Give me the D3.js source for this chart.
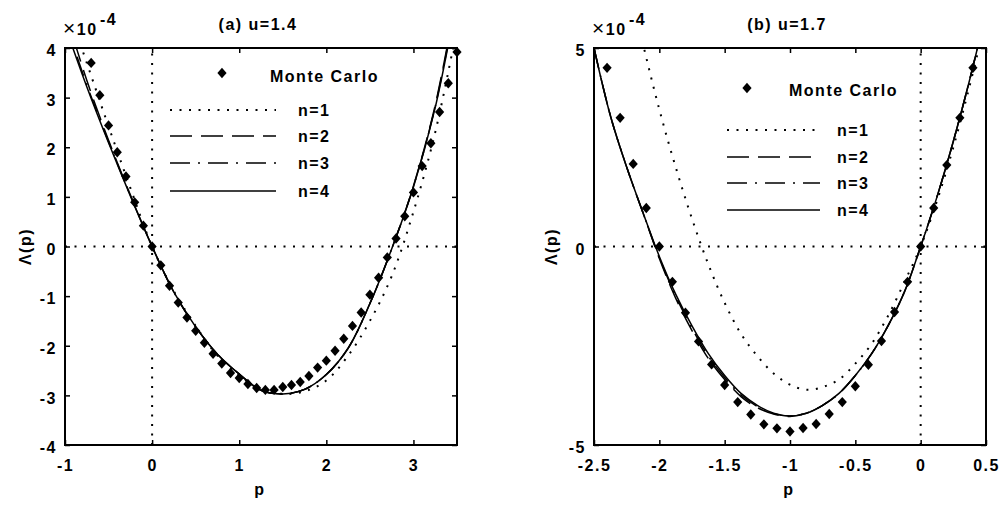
<!DOCTYPE html>
<html>
<head>
<meta charset="utf-8">
<script src="https://cdn.jsdelivr.net/npm/d3@7"></script>
<style>
    body { margin: 0; background: #fff; }
    text {
        font-family: "Liberation Sans", Arial, sans-serif;
        font-weight: bold;
        font-size: 16px;
        letter-spacing: 1.5px;
        fill: #000;
    }
</style>
</head>
<body>
<svg id="chart" width="1002" height="505"></svg>
<script>

//
// ******************************************************************
//                      DATA  (values in units of 1e-4)
// ******************************************************************
//

// Panel (a) u=1.4 : Monte Carlo points
const pMcA = [-0.7, -0.6, -0.5, -0.4, -0.3, -0.2, -0.1, 0, 0.1, 0.2, 0.3, 0.4, 0.5, 0.6, 0.7,
    0.8, 0.9, 1.0, 1.1, 1.2, 1.3, 1.4, 1.5, 1.6, 1.7, 1.8, 1.9, 2.0, 2.1, 2.2, 2.3, 2.4, 2.5,
    2.6, 2.7, 2.8, 2.9, 3.0, 3.1, 3.2, 3.3, 3.4, 3.5];
const lamMcA = [3.70, 3.05, 2.44, 1.90, 1.41, 0.89, 0.42, 0, -0.38, -0.79, -1.13, -1.43, -1.70, -1.94, -2.16,
    -2.36, -2.55, -2.65, -2.77, -2.85, -2.89, -2.89, -2.83, -2.79, -2.73, -2.61, -2.44, -2.30, -2.10, -1.86, -1.60, -1.33, -0.97,
    -0.63, -0.22, 0.16, 0.61, 1.09, 1.62, 2.08, 2.71, 3.29, 3.92];

// Panel (a) : approximations n=1..4
const pThA = [-1, -0.75, -0.5, -0.25, 0, 0.25, 0.5, 0.75, 1.0, 1.25, 1.5, 1.75, 2.0, 2.25, 2.5, 2.75, 3.0, 3.25, 3.5];
const lamA_n1 = [5.0, 3.7, 2.42, 1.18, 0, -0.9, -1.6, -2.2, -2.6, -2.88, -2.97, -2.92, -2.7, -2.2, -1.5, -0.6, 0.7, 2.3, 4.4];
const lamA_n2 = [4.75, 3.35, 2.14, 1.04, 0, -0.92, -1.62, -2.17, -2.57, -2.9, -2.97, -2.88, -2.58, -2.05, -1.15, -0.05, 1.22, 2.85, 5.1];
const lamA_n3 = [4.55, 3.26, 2.11, 1.03, 0, -0.92, -1.62, -2.17, -2.57, -2.9, -2.97, -2.88, -2.58, -2.05, -1.15, -0.05, 1.21, 2.82, 5.05];
const lamA_n4 = [4.45, 3.22, 2.09, 1.02, 0, -0.92, -1.62, -2.17, -2.57, -2.9, -2.97, -2.88, -2.58, -2.05, -1.15, -0.05, 1.2, 2.8, 5.0];

// Panel (b) u=1.7 : Monte Carlo points
const pMcB = [-2.4, -2.3, -2.2, -2.1, -2.0, -1.9, -1.8, -1.7, -1.6, -1.5, -1.4, -1.3, -1.2, -1.1, -1.0,
    -0.9, -0.8, -0.7, -0.6, -0.5, -0.4, -0.3, -0.2, -0.1, 0, 0.1, 0.2, 0.3, 0.4];
const lamMcB = [4.50, 3.24, 2.08, 0.97, 0, -0.89, -1.67, -2.39, -2.97, -3.49, -3.92, -4.23, -4.48, -4.58, -4.66,
    -4.57, -4.47, -4.22, -3.92, -3.52, -2.98, -2.38, -1.65, -0.89, 0, 0.97, 2.05, 3.24, 4.50];

// Panel (b) : approximations n=1..4
const pThB = [-2.5, -2.375, -2.25, -2.125, -2.0, -1.875, -1.75, -1.625, -1.5, -1.375, -1.25, -1.125, -1.0,
    -0.875, -0.75, -0.625, -0.5, -0.375, -0.25, -0.125, 0, 0.125, 0.25, 0.375, 0.5];
const lamB_n1 = [10.8, 8.8, 6.9, 5.1, 3.45, 2.0, 0.7, -0.45, -1.42, -2.2, -2.76, -3.2, -3.48,
    -3.61, -3.54, -3.35, -2.95, -2.45, -1.75, -0.9, 0, 1.15, 2.5, 4.05, 5.75];
const lamB_n2 = [5.0, 3.3, 2.0, 0.85, -0.3, -1.3, -2.12, -2.82, -3.35, -3.78, -4.06, -4.22, -4.28,
    -4.2, -4.0, -3.7, -3.25, -2.7, -2.0, -1.15, 0, 1.25, 2.65, 4.2, 5.9];
const lamB_n3 = [5.0, 3.3, 2.0, 0.85, -0.28, -1.25, -2.06, -2.76, -3.3, -3.74, -4.03, -4.21, -4.27,
    -4.2, -4.0, -3.7, -3.25, -2.7, -2.0, -1.15, 0, 1.25, 2.65, 4.2, 5.9];
const lamB_n4 = [5.0, 3.3, 2.0, 0.85, -0.25, -1.2, -2.0, -2.7, -3.25, -3.7, -4.0, -4.2, -4.27,
    -4.2, -4.0, -3.7, -3.25, -2.7, -2.0, -1.15, 0, 1.25, 2.65, 4.2, 5.9];

// Ticks
const xTicksA = [-1, 0, 1, 2, 3];
const yTicksA = [-4, -3, -2, -1, 0, 1, 2, 3, 4];
const xTicksB = [-2.5, -2, -1.5, -1, -0.5, 0, 0.5];
const yTicksB = [-5, 0, 5];

const seriesNames = ["n=1", "n=2", "n=3", "n=4"];
const mcName = "Monte Carlo";

//
// ******************************************************************
//                      STYLES
// ******************************************************************
//

const lineStyles = [
    { dash: "2,7.5", width: 2 },        // n=1 dotted
    { dash: "22,9", width: 1.5 },       // n=2 dashed
    { dash: "20,8,2,8", width: 1.5 },   // n=3 dash-dot
    { dash: null, width: 1.5 }          // n=4 solid
];

const diamond = {
    draw(ctx) {
        const w = 4.6, h = 5.2;
        ctx.moveTo(0, -h);
        ctx.lineTo(w, 0);
        ctx.lineTo(0, h);
        ctx.lineTo(-w, 0);
        ctx.closePath();
    }
};

const svg = d3.select("#chart");

const panels = [
    {
        id: "a", title: "(a) u=1.4",
        left: 65, right: 457, top: 48, bottom: 445,
        xDomain: [-1, 3.5], yDomain: [-4, 4],
        xTicks: xTicksA, yTicks: yTicksA,
        pMc: pMcA, lamMc: lamMcA,
        pTh: pThA, curves: [lamA_n1, lamA_n2, lamA_n3, lamA_n4],
        legend: { markerX: 222, markerY: 73, mcTextX: 270, mcY: 76,
                  lineX0: 170, lineX1: 276, textX: 298, rows: [110, 136, 163, 191] },
        ylabelX: 25
    },
    {
        id: "b", title: "(b) u=1.7",
        left: 594, right: 986, top: 48, bottom: 445,
        xDomain: [-2.5, 0.5], yDomain: [-5, 5],
        xTicks: xTicksB, yTicks: yTicksB,
        pMc: pMcB, lamMc: lamMcB,
        pTh: pThB, curves: [lamB_n1, lamB_n2, lamB_n3, lamB_n4],
        legend: { markerX: 747, markerY: 88, mcTextX: 789, mcY: 90,
                  lineX0: 727, lineX1: 820, textX: 837, rows: [130, 157, 183, 210] },
        ylabelX: 551
    }
];

panels.forEach(drawPanel);

function drawPanel(cfg) {

    const x = d3.scaleLinear().domain(cfg.xDomain).range([cfg.left, cfg.right]);
    const y = d3.scaleLinear().domain(cfg.yDomain).range([cfg.bottom, cfg.top]);
    const g = svg.append("g").attr("class", "panel-" + cfg.id);

    // Clip for the curves.
    svg.append("clipPath").attr("id", "clip-" + cfg.id)
        .append("rect")
        .attr("x", cfg.left).attr("y", cfg.top)
        .attr("width", cfg.right - cfg.left).attr("height", cfg.bottom - cfg.top);

    // Dotted zero lines.
    g.append("line")
        .attr("x1", cfg.left).attr("x2", cfg.right)
        .attr("y1", y(0)).attr("y2", y(0))
        .attr("stroke", "#000").attr("stroke-width", 2)
        .attr("stroke-dasharray", "2,7.5");
    g.append("line")
        .attr("x1", x(0)).attr("x2", x(0))
        .attr("y1", cfg.bottom).attr("y2", cfg.top)
        .attr("stroke", "#000").attr("stroke-width", 2)
        .attr("stroke-dasharray", "2,7.5");

    // Theory curves.
    const line = d3.line()
        .x(d => x(d[0]))
        .y(d => y(d[1]))
        .curve(d3.curveCatmullRom.alpha(0.5));

    const curves = g.append("g").attr("clip-path", `url(#clip-${cfg.id})`);
    cfg.curves.forEach((vals, i) => {
        curves.append("path")
            .datum(d3.zip(cfg.pTh, vals))
            .attr("d", line)
            .attr("fill", "none")
            .attr("stroke", "#000")
            .attr("stroke-width", lineStyles[i].width)
            .attr("stroke-dasharray", lineStyles[i].dash);
    });

    // Monte Carlo markers.
    const sym = d3.symbol(diamond)();
    g.append("g").selectAll("path")
        .data(d3.zip(cfg.pMc, cfg.lamMc))
        .join("path")
            .attr("transform", d => `translate(${x(d[0])},${y(d[1])})`)
            .attr("d", sym)
            .attr("fill", "#000");

    // Axes, ticks pointing inwards.
    const fmt = d => String(d);
    g.append("g")
        .attr("transform", `translate(0,${cfg.bottom})`)
        .call(d3.axisBottom(x).tickValues(cfg.xTicks).tickFormat(fmt)
            .tickSizeInner(-5).tickSizeOuter(0).tickPadding(15))
        .call(styleAxis);
    g.append("g")
        .attr("transform", `translate(0,${cfg.top})`)
        .call(d3.axisTop(x).tickValues(cfg.xTicks).tickFormat("")
            .tickSizeInner(-5).tickSizeOuter(0))
        .call(styleAxis);
    g.append("g")
        .attr("transform", `translate(${cfg.left},0)`)
        .call(d3.axisLeft(y).tickValues(cfg.yTicks).tickFormat(fmt)
            .tickSizeInner(-5).tickSizeOuter(0).tickPadding(8))
        .call(styleAxis)
        .call(a => a.selectAll("text").attr("dy", "0.48em"));
    g.append("g")
        .attr("transform", `translate(${cfg.right},0)`)
        .call(d3.axisRight(y).tickValues(cfg.yTicks).tickFormat("")
            .tickSizeInner(-5).tickSizeOuter(0))
        .call(styleAxis);

    // Frame.
    g.append("rect")
        .attr("x", cfg.left).attr("y", cfg.top)
        .attr("width", cfg.right - cfg.left).attr("height", cfg.bottom - cfg.top)
        .attr("fill", "none").attr("stroke", "#000").attr("stroke-width", 2);

    // Title, exponent and axis labels.
    const cx = (cfg.left + cfg.right) / 2;
    g.append("text").attr("x", cx - 3).attr("y", 30).attr("text-anchor", "middle").text(cfg.title);

    const expo = g.append("text").attr("x", cfg.left - 2).attr("y", 35);
    expo.append("tspan").style("font-size", "21px").style("font-weight", "normal").text("\u00d7");
    expo.append("tspan").text("10");
    g.append("text").attr("x", cfg.left + 35).attr("y", 25).text("-4");

    g.append("text").attr("x", cx - 1).attr("y", 495).attr("text-anchor", "middle").text("p");
    g.append("text")
        .attr("transform", `translate(${cfg.ylabelX},${(cfg.top + cfg.bottom) / 2}) rotate(-90)`)
        .attr("text-anchor", "middle").attr("dy", "0.35em")
        .text("\u039b(p)");

    // Legend.
    const L = cfg.legend;
    g.append("path")
        .attr("transform", `translate(${L.markerX},${L.markerY})`)
        .attr("d", sym).attr("fill", "#000");
    g.append("text").attr("x", L.mcTextX).attr("y", L.mcY).attr("dy", "0.36em").text(mcName);

    seriesNames.forEach((name, i) => {
        g.append("line")
            .attr("x1", L.lineX0).attr("x2", L.lineX1)
            .attr("y1", L.rows[i]).attr("y2", L.rows[i])
            .attr("stroke", "#000")
            .attr("stroke-width", lineStyles[i].width)
            .attr("stroke-dasharray", lineStyles[i].dash);
        g.append("text").attr("x", L.textX).attr("y", L.rows[i]).attr("dy", "0.36em").text(name);
    });
}

function styleAxis(a) {
    a.select(".domain").remove();
    a.selectAll(".tick line").attr("stroke", "#000").attr("stroke-width", 1.5);
    a.selectAll(".tick text")
        .style("font-family", "\"Liberation Sans\", Arial, sans-serif")
        .style("font-size", "16px")
        .style("font-weight", "bold");
}

</script>
</body>
</html>
